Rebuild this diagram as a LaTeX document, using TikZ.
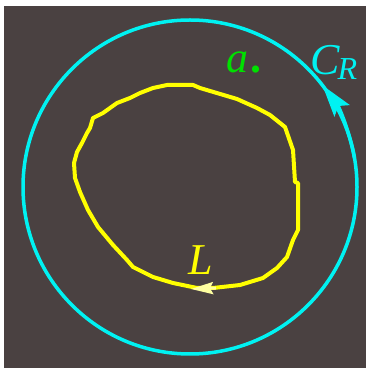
\documentclass[tikz,border=0pt]{standalone}
\usepackage{fontspec}
\setmainfont{Liberation Serif}
\usepackage{tikz}
\usetikzlibrary{arrows.meta}
\definecolor{bgbrown}{HTML}{4A4141}
\definecolor{ringcyan}{HTML}{00F2F2}
\definecolor{loopyellow}{HTML}{FFFF00}
\definecolor{tipyellow}{HTML}{FFFFA0}
\definecolor{pointgreen}{HTML}{00E000}
\tikzset{
  ring/.style     = {draw=ringcyan, line width=3.5pt},
  ringtip/.style  = {draw=ringcyan, line width=3.5pt,
                     -{Stealth[length=32pt,width=19pt,inset=6pt]}},
  loopline/.style = {draw=loopyellow, line width=4pt, line join=round},
  looptip/.style  = {draw=tipyellow, line width=3pt,
                     -{Stealth[length=22pt,width=12pt,inset=3pt]}},
  biglabel/.style = {font=\fontsize{44}{48}\selectfont\itshape, inner sep=0pt,
                     anchor=base west},
}

\begin{document}
\begin{tikzpicture}[x=1pt,y=1pt]
        \useasboundingbox (0,0) rectangle (366,369);
        \fill[bgbrown] (4,1) rectangle (366,363);
        % outer contour
        \coordinate (o) at (190,182);
        \draw[ring] (o) circle[radius=167];
        \draw[ringtip] ([shift={(10:167)}]o) arc[start angle=10,end angle=37.5,radius=167];
        % inner contour
        \draw[loopline] (167,284) -- (193,284) -- (200,281) -- (237,270) -- (257,261)
          -- (270,254) -- (285,242) -- (293,219) -- (295,187) -- (298,186)
          -- (298,139) -- (293,129) -- (287,112) -- (277,101) -- (263,91)
          -- (240,84) -- (213,81) -- (197,81) -- (173,86) -- (153,92)
          -- (133,102) -- (127,109) -- (113,124) -- (98,142) -- (88,159)
          -- (80,177) -- (75,191) -- (74,206) -- (77,217) -- (82,226)
          -- (87,236) -- (90,241) -- (93,251) -- (103,256) -- (117,266)
          -- (130,271) -- (140,276) -- (153,281) -- cycle;
        \coordinate (tb) at (216,81);
        \coordinate (tt) at (191,80);
        \draw[looptip] (tb) -- (tt);
        % labels
        \node[biglabel,text=pointgreen] (lbla) at (226,296) {a\hspace{2pt}\upshape\bfseries.};
        \node[biglabel,text=ringcyan] (lblc) at (310,294)
          {C\hspace{-2pt}\raisebox{-5pt}{\fontsize{32}{34}\selectfont R}};
        \node[biglabel,text=loopyellow] (lbll) at (188,94) {L};
      \end{tikzpicture}
\end{document}
